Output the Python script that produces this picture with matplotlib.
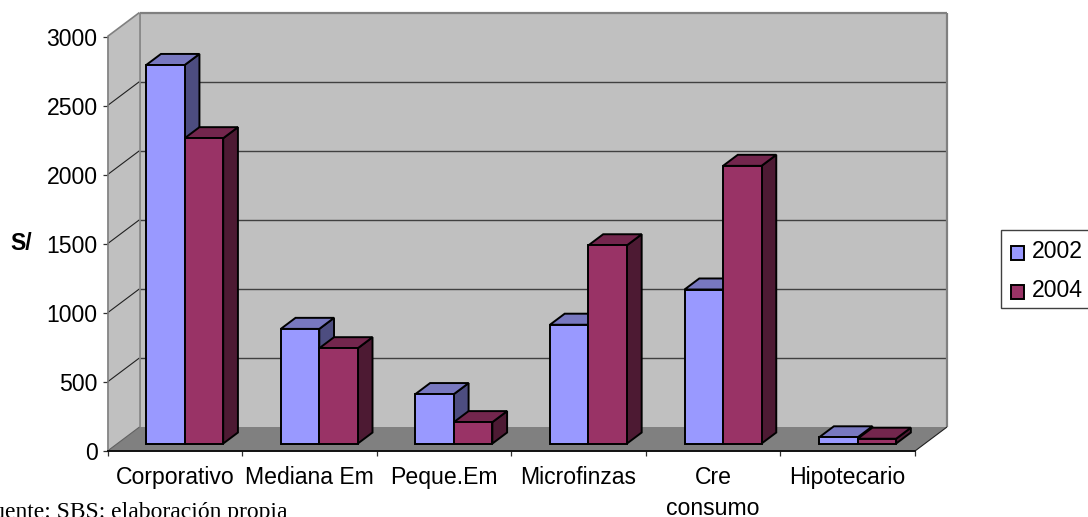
import matplotlib
matplotlib.use("Agg")
import matplotlib.pyplot as plt
from matplotlib.patches import Polygon, Patch, Rectangle

categories = ["Corporativo", "Mediana Em", "Peque.Em", "Microfinzas", "Cre\nconsumo", "Hipotecario"]
series_names = ["2002", "2004"]
values_2002 = [2740, 830, 358, 860, 1115, 45]
values_2004 = [2210, 690, 155, 1435, 2010, 35]
y_ticks = [0, 500, 1000, 1500, 2000, 2500, 3000]

W, H = 1088, 517
FS = 16.6
plt.rcParams['font.family'] = ['Liberation Sans', 'DejaVu Sans']
fig = plt.figure(figsize=(W / 100, H / 100), dpi=100)

# Front plane of the 3D box in pixels
L, R, B, T = 107.5, 915.0, 451.0, 36.5
ax = fig.add_axes([L / W, 1 - B / H, (R - L) / W, (B - T) / H])
ax.set_xlim(0, 6)
ax.set_ylim(0, 3000)
ax.patch.set_visible(False)

DX = 32 / ((R - L) / 6)       # depth shift, category units
DY = 24 / ((B - T) / 3000)    # depth shift, value units


def p(x, y, d=0.0):
    return (x + d * DX, y + d * DY)


def poly(points, fc, ec='none', lw=0, z=1):
    ax.add_patch(Polygon(points, closed=True, facecolor=fc, edgecolor=ec, linewidth=lw,
                         clip_on=False, zorder=z, joinstyle='miter'))


def line(a, b, color, lw, z=2):
    ax.plot([a[0], b[0]], [a[1], b[1]], color=color, lw=lw, clip_on=False, zorder=z,
            solid_capstyle='butt')


GREY = '#C0C0C0'
FLOOR = '#808080'
top = y_ticks[-1]
# walls and floor
poly([p(0, 0, 1), p(6, 0, 1), p(6, top, 1), p(0, top, 1)], GREY, z=1)
poly([p(0, 0, 0), p(0, 0, 1), p(0, top, 1), p(0, top, 0)], GREY, z=1)
poly([p(0, 0, 0), p(6, 0, 0), p(6, 0, 1), p(0, 0, 1)], FLOOR, z=1)

# gridlines
for v in y_ticks[1:-1]:
    line(p(0, v, 1), p(6, v, 1), '#404040', 1.0)
    line(p(0, v, 0), p(0, v, 1), '#202020', 0.8)
# frame edges
line(p(0, top, 1), p(6, top, 1), FLOOR, 1.6)
line(p(6, 0, 1), p(6, top, 1), FLOOR, 1.6)
line(p(0, 0, 1), p(0, top, 1), FLOOR, 1.2)
line(p(0, top, 0), p(0, top, 1), FLOOR, 1.2)
line(p(0, 0, 0), p(0, 0, 1), '#606060', 0.8)
line(p(6, 0, 0), p(6, 0, 1), '#202020', 0.8)

# bars
BAR_W = 0.286
D0, D1 = 0.31, 0.77
styles = [('#9999FF', '#7878C0', '#4D4D80'), ('#993366', '#73264D', '#4D1A33')]
edge = dict(ec='black', lw=1.4)
for c in range(len(categories)):
    for s, vals in enumerate([values_2002, values_2004]):
        v = vals[c]
        x0 = c + 0.5 - BAR_W + s * BAR_W
        x1 = x0 + BAR_W
        front, topc, side = styles[s]
        z = 3 + c * 3 + s * 3
        poly([p(x1, 0, D0), p(x1, 0, D1), p(x1, v, D1), p(x1, v, D0)], side, z=z, **edge)
        poly([p(x0, v, D0), p(x1, v, D0), p(x1, v, D1), p(x0, v, D1)], topc, z=z + 1, **edge)
        poly([p(x0, 0, D0), p(x1, 0, D0), p(x1, v, D0), p(x0, v, D0)], front, z=z + 2, **edge)

# axes
for side in ('top', 'right'):
    ax.spines[side].set_visible(False)
ax.spines['left'].set_color(FLOOR)
ax.spines['left'].set_linewidth(1.2)
ax.spines['bottom'].set_color('#101010')
ax.spines['bottom'].set_linewidth(1.4)
ax.spines['left'].set_zorder(60)
ax.spines['bottom'].set_zorder(60)
ax.set_yticks(y_ticks)
ax.set_xticks(range(len(categories) + 1))
ax.set_xticklabels([])
ax.set_xticks([c + 0.5 for c in range(len(categories))], minor=True)
ax.set_xticklabels(categories, minor=True, linespacing=1.41)
ax.tick_params(axis='x', which='major', length=3.6, width=0.9, color='#303030')
ax.tick_params(axis='x', which='minor', length=0, pad=11, labelsize=FS)
ax.tick_params(axis='y', length=3.6, width=0.9, color='#303030', pad=3.6, labelsize=FS)

# outer texts
fig.text(10 / W, 1 - 244 / H, "S/", fontsize=FS, fontweight='bold', va='center', ha='left')
fig.text(287 / W, 1 - 518 / H, "Fuente: SBS: elaboración propia", ha='right', va='baseline',
         fontsize=17, family=['Liberation Serif', 'DejaVu Serif'])

# legend
handles = [Patch(facecolor=styles[i][0], edgecolor='black', linewidth=1.4, label=series_names[i])
           for i in range(2)]
leg = fig.legend(handles=handles, loc='upper left', bbox_to_anchor=(1001 / W, 1 - 230 / H),
                 bbox_transform=fig.transFigure, borderaxespad=0, fontsize=FS,
                 frameon=False,
                 handlelength=0.58, handleheight=0.55, handletextpad=0.36,
                 borderpad=0.42, labelspacing=0.72)
for h in leg.legend_handles:
    h.set_y(h.get_y() - 2.2)
fig.add_artist(Rectangle((1001 / W, 1 - 308 / H), 100 / W, 78 / H, transform=fig.transFigure,
                         facecolor='white', edgecolor='#404040', linewidth=1.0, zorder=0.5))

fig.savefig("out.png", dpi=100)
